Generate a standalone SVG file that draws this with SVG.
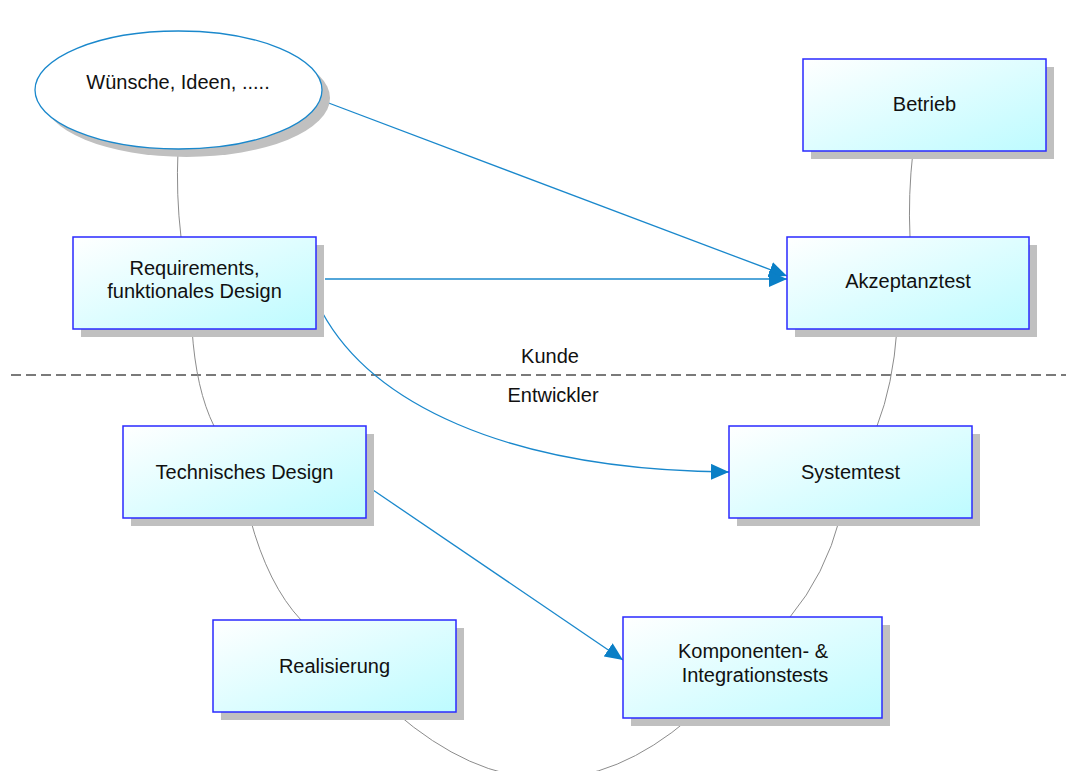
<svg xmlns="http://www.w3.org/2000/svg" width="1066" height="771" viewBox="0 0 1066 771">
  <defs>
    <linearGradient id="boxFill" x1="0" y1="0" x2="1" y2="1">
      <stop offset="0" stop-color="#ffffff"/>
      <stop offset="1" stop-color="#bdfbff"/>
    </linearGradient>
    <marker id="arrow" viewBox="0 0 18 16" refX="18" refY="8" markerWidth="18" markerHeight="16" markerUnits="userSpaceOnUse" orient="auto">
      <path d="M0,0 L18,8 L0,16 Z" fill="#0a7fc6"/>
    </marker>
  </defs>
  <style>
    .shadow { fill: #c0c0c0; }
    .box { fill: url(#boxFill); stroke: #2a2aff; stroke-width: 1.5; }
    .label { font-family: "Liberation Sans", Arial, sans-serif; font-size: 20px; fill: #111111; text-anchor: middle; }
    .link { fill: none; stroke: #8c8c8c; stroke-width: 1; }
    .flow { fill: none; stroke: #1a88cc; stroke-width: 1.3; marker-end: url(#arrow); }
    .divider { stroke: #7a7a7a; stroke-width: 2; stroke-dasharray: 10 5; }
  </style>

  <rect width="1066" height="771" fill="#ffffff"/>

  <!-- customer / developer boundary -->
  <line class="divider" x1="11" y1="375" x2="1066" y2="375"/>
  <text class="label" x="550" y="363">Kunde</text>
  <text class="label" x="553" y="402">Entwickler</text>

  <!-- connectors -->
  <g id="connectors">
    <path class="link" d="M178,150 Q176,195 181,237"/>
    <path class="link" d="M192,329 Q196,390 214,426"/>
    <path class="link" d="M250,518 Q268,585 301,620"/>
    <path class="link" d="M395,712 Q545,842 690,718"/>
    <path class="link" d="M790,617 Q825,575 840,518"/>
    <path class="link" d="M877,426 Q893,385 897,329"/>
    <path class="link" d="M910,237 Q908,195 913,151"/>

    <path class="flow" d="M326,102 L787,276"/>
    <path class="flow" d="M325,279 L787,279"/>
    <path class="flow" d="M322,312 C370,400 500,470 729,472"/>
    <path class="flow" d="M373,490 L623,660"/>
  </g>

  <!-- nodes -->
  <g id="wishes">
    <ellipse class="shadow" cx="186.5" cy="98" rx="143.5" ry="59"/>
    <ellipse cx="178.5" cy="90" rx="143.5" ry="59" fill="#ffffff" stroke="#1a88cc" stroke-width="1.3"/>
    <text class="label" x="178" y="89">Wünsche, Ideen, .....</text>
  </g>

  <g id="betrieb">
    <rect class="shadow" x="811" y="67" width="243" height="92"/>
    <rect class="box" x="803" y="59" width="243" height="92"/>
    <text class="label" x="924.5" y="111">Betrieb</text>
  </g>

  <g id="requirements">
    <rect class="shadow" x="81" y="245" width="243" height="92"/>
    <rect class="box" x="73" y="237" width="243" height="92"/>
    <text class="label" x="194.5" y="275">Requirements,</text>
    <text class="label" x="194.5" y="298">funktionales Design</text>
  </g>

  <g id="akzeptanztest">
    <rect class="shadow" x="795" y="245" width="242" height="92"/>
    <rect class="box" x="787" y="237" width="242" height="92"/>
    <text class="label" x="908" y="288">Akzeptanztest</text>
  </g>

  <g id="technisches-design">
    <rect class="shadow" x="131" y="434" width="243" height="92"/>
    <rect class="box" x="123" y="426" width="243" height="92"/>
    <text class="label" x="244.5" y="479">Technisches Design</text>
  </g>

  <g id="systemtest">
    <rect class="shadow" x="737" y="434" width="243" height="92"/>
    <rect class="box" x="729" y="426" width="243" height="92"/>
    <text class="label" x="850.5" y="479">Systemtest</text>
  </g>

  <g id="realisierung">
    <rect class="shadow" x="221" y="628" width="243" height="92"/>
    <rect class="box" x="213" y="620" width="243" height="92"/>
    <text class="label" x="334.5" y="673">Realisierung</text>
  </g>

  <g id="komponententests">
    <rect class="shadow" x="631" y="625" width="259" height="101"/>
    <rect class="box" x="623" y="617" width="259" height="101"/>
    <text class="label" x="753" y="658">Komponenten- &amp;</text>
    <text class="label" x="755" y="682">Integrationstests</text>
  </g>
</svg>
